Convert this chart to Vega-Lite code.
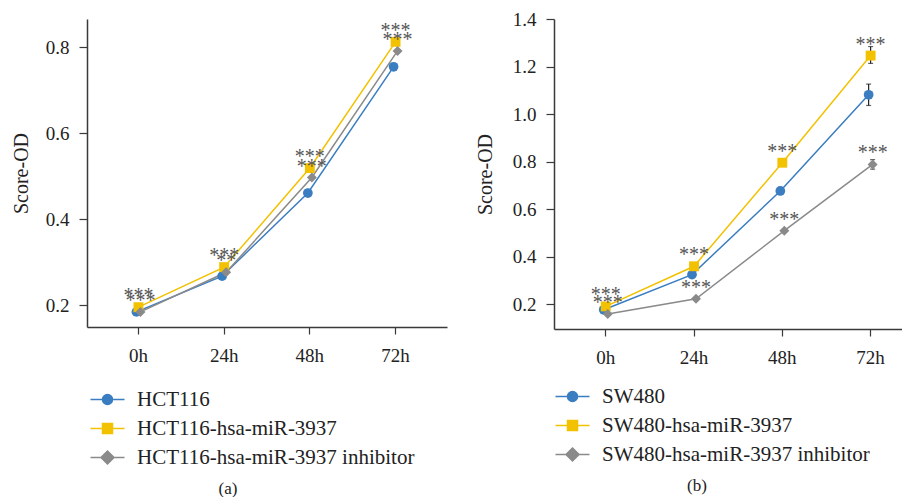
{
  "$schema": "https://vega.github.io/schema/vega-lite/v6.json",
  "background": "white",
  "padding": {"left": 11, "top": 10, "right": 0, "bottom": 0},
  "config": {
    "view": {"stroke": null},
    "font": "Liberation Serif",
    "axis": {"grid": false, "domainColor": "#3a3a3a", "tickColor": "#3a3a3a", "labelColor": "#222222", "titleColor": "#222222", "labelFont": "Liberation Serif", "titleFont": "Liberation Serif", "labelFontSize": 19, "titleFontSize": 20, "titleFontWeight": "normal", "domainWidth": 1.5, "tickWidth": 1.2},
    "legend": {"labelFont": "Liberation Serif", "labelFontSize": 21, "labelColor": "#222222", "padding": 0, "labelLimit": 500}
  },
  "datasets": {
    "a": [
      {"hour": "0h", "series": "HCT116", "od": 0.185},
      {"hour": "24h", "series": "HCT116", "od": 0.268},
      {"hour": "48h", "series": "HCT116", "od": 0.461},
      {"hour": "72h", "series": "HCT116", "od": 0.754},
      {"hour": "0h", "series": "HCT116-hsa-miR-3937", "od": 0.196, "sig": "***"},
      {"hour": "24h", "series": "HCT116-hsa-miR-3937", "od": 0.289, "sig": "***"},
      {"hour": "48h", "series": "HCT116-hsa-miR-3937", "od": 0.519, "sig": "***"},
      {"hour": "72h", "series": "HCT116-hsa-miR-3937", "od": 0.812, "sig": "***"},
      {"hour": "0h", "series": "HCT116-hsa-miR-3937 inhibitor", "od": 0.185, "sig": "***"},
      {"hour": "24h", "series": "HCT116-hsa-miR-3937 inhibitor", "od": 0.277, "sig": "**"},
      {"hour": "48h", "series": "HCT116-hsa-miR-3937 inhibitor", "od": 0.497, "sig": "***"},
      {"hour": "72h", "series": "HCT116-hsa-miR-3937 inhibitor", "od": 0.791, "sig": "***"}
    ],
    "b": [
      {"hour": "0h", "series": "SW480", "od": 0.176},
      {"hour": "24h", "series": "SW480", "od": 0.324},
      {"hour": "48h", "series": "SW480", "od": 0.676},
      {"hour": "72h", "series": "SW480", "od": 1.081, "lo": 1.036, "hi": 1.126},
      {"hour": "0h", "series": "SW480-hsa-miR-3937", "od": 0.19, "sig": "***"},
      {"hour": "24h", "series": "SW480-hsa-miR-3937", "od": 0.359, "sig": "***"},
      {"hour": "48h", "series": "SW480-hsa-miR-3937", "od": 0.795, "sig": "***"},
      {"hour": "72h", "series": "SW480-hsa-miR-3937", "od": 1.246, "lo": 1.213, "hi": 1.284, "sig": "***"},
      {"hour": "0h", "series": "SW480-hsa-miR-3937 inhibitor", "od": 0.158, "sig": "***"},
      {"hour": "24h", "series": "SW480-hsa-miR-3937 inhibitor", "od": 0.222, "sig": "***"},
      {"hour": "48h", "series": "SW480-hsa-miR-3937 inhibitor", "od": 0.509, "sig": "***"},
      {"hour": "72h", "series": "SW480-hsa-miR-3937 inhibitor", "od": 0.788, "lo": 0.768, "hi": 0.808, "sig": "***"}
    ]
  },
  "spacing": 28,
  "resolve": {"scale": {"x": "independent", "y": "independent", "xOffset": "independent", "color": "independent", "fill": "independent", "stroke": "independent", "shape": "independent", "size": "independent"}},
  "hconcat": [
    {
      "width": 360,
      "height": 308,
      "data": {"name": "a"},
      "title": {"text": "(a)", "orient": "bottom", "offset": 13, "dx": -39, "fontSize": 17, "fontWeight": "normal", "font": "Liberation Serif", "color": "#222222"},
      "encoding": {
        "x": {"field": "hour", "type": "ordinal", "sort": ["0h", "24h", "48h", "72h"], "scale": {"type": "band", "paddingInner": 0.93, "paddingOuter": 0.565}, "axis": {"title": null, "labelAngle": 0, "tickSize": 7, "labelPadding": 12}},
        "xOffset": {"field": "series", "type": "nominal", "scale": {"type": "point", "domain": ["HCT116", "HCT116-hsa-miR-3937", "HCT116-hsa-miR-3937 inhibitor"]}},
        "y": {"field": "od", "type": "quantitative", "scale": {"domain": [0.15, 0.865], "nice": false, "zero": false}, "axis": {"title": "Score-OD", "values": [0.2, 0.4, 0.6, 0.8], "format": ".1f", "tickSize": 8, "labelPadding": 10, "titlePadding": 14}}
      },
      "layer": [
        {
          "mark": {"type": "line", "strokeWidth": 1.5},
          "encoding": {"color": {"field": "series", "type": "nominal", "scale": {"domain": ["HCT116", "HCT116-hsa-miR-3937", "HCT116-hsa-miR-3937 inhibitor"], "range": ["#3a7dc1", "#f2c100", "#8a8a8a"]}, "legend": null}}
        },
        {
          "mark": {"type": "point", "filled": true, "opacity": 1},
          "encoding": {
            "color": {"field": "series", "type": "nominal", "scale": {"domain": ["HCT116", "HCT116-hsa-miR-3937", "HCT116-hsa-miR-3937 inhibitor"], "range": ["#3a7dc1", "#f2c100", "#8a8a8a"]}, "legend": null},
            "shape": {"field": "series", "type": "nominal", "scale": {"domain": ["HCT116", "HCT116-hsa-miR-3937", "HCT116-hsa-miR-3937 inhibitor"], "range": ["circle", "square", "diamond"]}, "legend": null},
            "size": {"field": "series", "type": "nominal", "scale": {"domain": ["HCT116", "HCT116-hsa-miR-3937", "HCT116-hsa-miR-3937 inhibitor"], "range": [95, 100, 190]}, "legend": null}
          }
        },
        {
          "transform": [{"filter": "datum.sig != null"}],
          "mark": {"type": "text", "fontSize": 20, "color": "#555555", "baseline": "alphabetic", "dy": -5},
          "encoding": {"text": {"field": "sig"}}
        },
        {
          "transform": [{"filter": "datum.hour == 'none'"}],
          "mark": {"type": "point", "filled": true, "opacity": 1},
          "encoding": {
            "fill": {"field": "series", "type": "nominal", "scale": {"domain": ["HCT116", "HCT116-hsa-miR-3937", "HCT116-hsa-miR-3937 inhibitor"], "range": ["#3a7dc1", "#f2c100", "#8a8a8a"]}, "legend": {"title": null, "orient": "none", "legendX": 10, "legendY": 370, "direction": "vertical", "symbolSize": 100, "symbolStrokeWidth": 1.5, "symbolOpacity": 1, "labelOffset": 19, "rowPadding": 7}},
            "stroke": {"field": "series", "type": "nominal", "scale": {"domain": ["HCT116", "HCT116-hsa-miR-3937", "HCT116-hsa-miR-3937 inhibitor"], "range": ["#3a7dc1", "#f2c100", "#8a8a8a"]}, "legend": {"title": null, "orient": "none", "legendX": 10, "legendY": 370, "direction": "vertical", "symbolSize": 100, "symbolStrokeWidth": 1.5, "symbolOpacity": 1, "labelOffset": 19, "rowPadding": 7}},
            "shape": {"field": "series", "type": "nominal", "scale": {"domain": ["HCT116", "HCT116-hsa-miR-3937", "HCT116-hsa-miR-3937 inhibitor"], "range": ["M-3.4,0H3.4M-1,0A1,1,0,1,0,1,0A1,1,0,1,0,-1,0Z", "M-3.4,0H3.4M-1,-1H1V1H-1Z", "M-3.4,0H3.4M0,-1.3L1.3,0L0,1.3L-1.3,0Z"]}, "legend": {"title": null, "orient": "none", "legendX": 10, "legendY": 370, "direction": "vertical", "symbolSize": 100, "symbolStrokeWidth": 1.5, "symbolOpacity": 1, "labelOffset": 19, "rowPadding": 7}}
          }
        }
      ],
      "resolve": {"scale": {"fill": "independent", "stroke": "independent", "shape": "independent"}}
    },
    {
      "width": 348,
      "height": 310,
      "data": {"name": "b"},
      "title": {"text": "(b)", "orient": "bottom", "offset": 13, "dx": -31, "fontSize": 17, "fontWeight": "normal", "font": "Liberation Serif", "color": "#222222"},
      "encoding": {
        "x": {"field": "hour", "type": "ordinal", "sort": ["0h", "24h", "48h", "72h"], "scale": {"type": "band", "paddingInner": 0.932, "paddingOuter": 0.4366, "align": 0.632}, "axis": {"title": null, "labelAngle": 0, "tickSize": 7, "labelPadding": 12}},
        "xOffset": {"field": "series", "type": "nominal", "scale": {"type": "point", "domain": ["SW480", "SW480-hsa-miR-3937", "SW480-hsa-miR-3937 inhibitor"]}},
        "y": {"field": "od", "type": "quantitative", "scale": {"domain": [0.095, 1.4], "nice": false, "zero": false}, "axis": {"title": "Score-OD", "values": [0.2, 0.4, 0.6, 0.8, 1.0, 1.2, 1.4], "format": ".1f", "tickSize": 8, "labelPadding": 10, "titlePadding": 17}}
      },
      "layer": [
        {
          "mark": {"type": "line", "strokeWidth": 1.5},
          "encoding": {"color": {"field": "series", "type": "nominal", "scale": {"domain": ["SW480", "SW480-hsa-miR-3937", "SW480-hsa-miR-3937 inhibitor"], "range": ["#3a7dc1", "#f2c100", "#8a8a8a"]}, "legend": null}}
        },
        {
          "transform": [{"filter": "datum.lo != null"}],
          "mark": {"type": "rule", "color": "#222222", "strokeWidth": 1.2},
          "encoding": {"y": {"field": "lo", "type": "quantitative"}, "y2": {"field": "hi"}}
        },
        {
          "transform": [{"filter": "datum.lo != null"}],
          "mark": {"type": "tick", "color": "#222222", "thickness": 1.2, "size": 5, "orient": "horizontal"},
          "encoding": {"y": {"field": "lo", "type": "quantitative"}}
        },
        {
          "transform": [{"filter": "datum.lo != null"}],
          "mark": {"type": "tick", "color": "#222222", "thickness": 1.2, "size": 5, "orient": "horizontal"},
          "encoding": {"y": {"field": "hi", "type": "quantitative"}}
        },
        {
          "mark": {"type": "point", "filled": true, "opacity": 1},
          "encoding": {
            "color": {"field": "series", "type": "nominal", "scale": {"domain": ["SW480", "SW480-hsa-miR-3937", "SW480-hsa-miR-3937 inhibitor"], "range": ["#3a7dc1", "#f2c100", "#8a8a8a"]}, "legend": null},
            "shape": {"field": "series", "type": "nominal", "scale": {"domain": ["SW480", "SW480-hsa-miR-3937", "SW480-hsa-miR-3937 inhibitor"], "range": ["circle", "square", "diamond"]}, "legend": null},
            "size": {"field": "series", "type": "nominal", "scale": {"domain": ["SW480", "SW480-hsa-miR-3937", "SW480-hsa-miR-3937 inhibitor"], "range": [95, 100, 190]}, "legend": null}
          }
        },
        {
          "transform": [{"filter": "datum.sig != null"}],
          "mark": {"type": "text", "fontSize": 20, "color": "#555555", "baseline": "alphabetic", "dy": -5},
          "encoding": {"text": {"field": "sig"}}
        },
        {
          "transform": [{"filter": "datum.hour == 'none'"}],
          "mark": {"type": "point", "filled": true, "opacity": 1},
          "encoding": {
            "fill": {"field": "series", "type": "nominal", "scale": {"domain": ["SW480", "SW480-hsa-miR-3937", "SW480-hsa-miR-3937 inhibitor"], "range": ["#3a7dc1", "#f2c100", "#8a8a8a"]}, "legend": {"title": null, "orient": "none", "legendX": 8, "legendY": 367, "direction": "vertical", "symbolSize": 100, "symbolStrokeWidth": 1.5, "symbolOpacity": 1, "labelOffset": 19, "rowPadding": 7}},
            "stroke": {"field": "series", "type": "nominal", "scale": {"domain": ["SW480", "SW480-hsa-miR-3937", "SW480-hsa-miR-3937 inhibitor"], "range": ["#3a7dc1", "#f2c100", "#8a8a8a"]}, "legend": {"title": null, "orient": "none", "legendX": 8, "legendY": 367, "direction": "vertical", "symbolSize": 100, "symbolStrokeWidth": 1.5, "symbolOpacity": 1, "labelOffset": 19, "rowPadding": 7}},
            "shape": {"field": "series", "type": "nominal", "scale": {"domain": ["SW480", "SW480-hsa-miR-3937", "SW480-hsa-miR-3937 inhibitor"], "range": ["M-3.4,0H3.4M-1,0A1,1,0,1,0,1,0A1,1,0,1,0,-1,0Z", "M-3.4,0H3.4M-1,-1H1V1H-1Z", "M-3.4,0H3.4M0,-1.3L1.3,0L0,1.3L-1.3,0Z"]}, "legend": {"title": null, "orient": "none", "legendX": 8, "legendY": 367, "direction": "vertical", "symbolSize": 100, "symbolStrokeWidth": 1.5, "symbolOpacity": 1, "labelOffset": 19, "rowPadding": 7}}
          }
        }
      ],
      "resolve": {"scale": {"fill": "independent", "stroke": "independent", "shape": "independent"}}
    }
  ]
}
